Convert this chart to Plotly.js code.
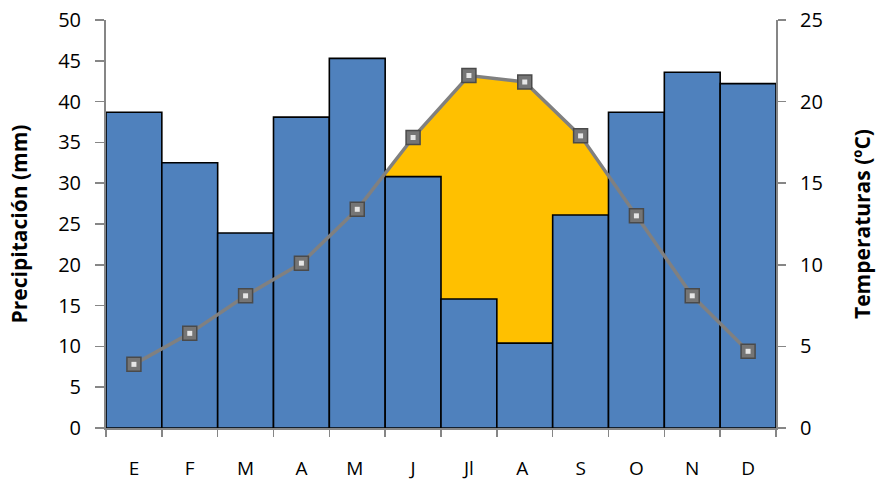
<!DOCTYPE html>
<html>
<head>
<meta charset="utf-8">
<script src="https://cdn.plot.ly/plotly-3.0.1.min.js"></script>
<style>
  html, body { margin: 0; padding: 0; background: #fff; }
  #chart { width: 877px; height: 482px; }
</style>
</head>
<body>
<div id="chart"></div>
<script>
// Climograma: precipitación mensual (barras) y temperatura media (línea)
const months = ['E', 'F', 'M', 'A', 'M ', 'J', 'Jl', 'A ', 'S', 'O', 'N', 'D'];
const precipitation = [38.7, 32.5, 23.9, 38.1, 45.3, 30.8, 15.8, 10.4, 26.1, 38.7, 43.6, 42.2];
const temperature = [3.9, 5.8, 8.1, 10.1, 13.4, 17.8, 21.6, 21.2, 17.9, 13.0, 8.1, 4.7];
const precipTicks = [0, 5, 10, 15, 20, 25, 30, 35, 40, 45, 50];
const tempTicks = [0, 5, 10, 15, 20, 25];

const FONT = 'Open Sans, Lato, sans-serif';
const AXIS_GREY = '#868686';

const traces = [
  // Dry season area: temperature filled to zero, laid behind the bars
  {
    type: 'scatter',
    x: months,
    y: temperature,
    yaxis: 'y',
    mode: 'lines',
    fill: 'tozeroy',
    fillcolor: '#FFC000',
    line: { color: '#FFC000', width: 0 },
    hoverinfo: 'skip',
    showlegend: false
  },
  // Precipitation bars
  {
    type: 'bar',
    x: months,
    y: precipitation,
    yaxis: 'y2',
    marker: { color: '#4F81BD', line: { color: '#000000', width: 1.6 } },
    showlegend: false
  },
  // Temperature line with square markers
  {
    type: 'scatter',
    x: months,
    y: temperature,
    yaxis: 'y3',
    mode: 'lines+markers',
    line: { color: '#808080', width: 3.5 },
    marker: {
      symbol: 'square',
      size: 14,
      color: '#757575',
      line: { color: '#4a4a4a', width: 1.5 }
    },
    cliponaxis: false,
    showlegend: false
  },
  // Highlight inside each marker
  {
    type: 'scatter',
    x: months,
    y: temperature,
    yaxis: 'y3',
    mode: 'markers',
    marker: { symbol: 'square', size: 5, color: '#e6e6e6' },
    cliponaxis: false,
    hoverinfo: 'skip',
    showlegend: false
  }
];

const layout = {
  width: 877,
  height: 482,
  margin: { l: 106, r: 101, t: 20, b: 54 },
  paper_bgcolor: '#ffffff',
  plot_bgcolor: '#ffffff',
  bargap: 0,
  showlegend: false,
  font: { family: FONT, size: 20, color: '#000' },
  xaxis: {
    type: 'category',
    range: [-0.5, 11.5],
    autorange: false,
    tickson: 'boundaries',
    ticks: 'outside',
    ticklen: 7,
    tickwidth: 1.5,
    tickcolor: AXIS_GREY,
    showline: true,
    linecolor: AXIS_GREY,
    linewidth: 2,
    showgrid: false,
    zeroline: false,
    ticklabelstandoff: 22,
    tickfont: { family: FONT, size: 19, color: '#000' }
  },
  yaxis: {
    side: 'right',
    range: [0, 25],
    tickvals: tempTicks,
    ticks: 'outside',
    ticklen: 8,
    tickwidth: 1.5,
    tickcolor: AXIS_GREY,
    showline: true,
    linecolor: AXIS_GREY,
    linewidth: 2,
    showgrid: false,
    zeroline: false,
    ticklabelstandoff: 10,
    tickfont: { family: FONT, size: 20, color: '#000' },
    title: { text: 'Temperaturas (ºC)', font: { family: FONT, size: 21, color: '#000', weight: 'bold' }, standoff: 33 }
  },
  yaxis2: {
    side: 'left',
    overlaying: 'y',
    range: [0, 50],
    tickvals: precipTicks,
    ticks: 'outside',
    ticklen: 9,
    tickwidth: 1.5,
    tickcolor: AXIS_GREY,
    showline: true,
    linecolor: AXIS_GREY,
    linewidth: 2,
    showgrid: false,
    zeroline: false,
    ticklabelstandoff: 10,
    tickfont: { family: FONT, size: 20, color: '#000' },
    title: { text: 'Precipitación (mm)', font: { family: FONT, size: 21, color: '#000', weight: 'bold' }, standoff: 25 }
  },
  yaxis3: {
    overlaying: 'y',
    range: [0, 25],
    visible: false
  }
};

Plotly.newPlot('chart', traces, layout, { displayModeBar: false, staticPlot: true });
</script>
</body>
</html>
